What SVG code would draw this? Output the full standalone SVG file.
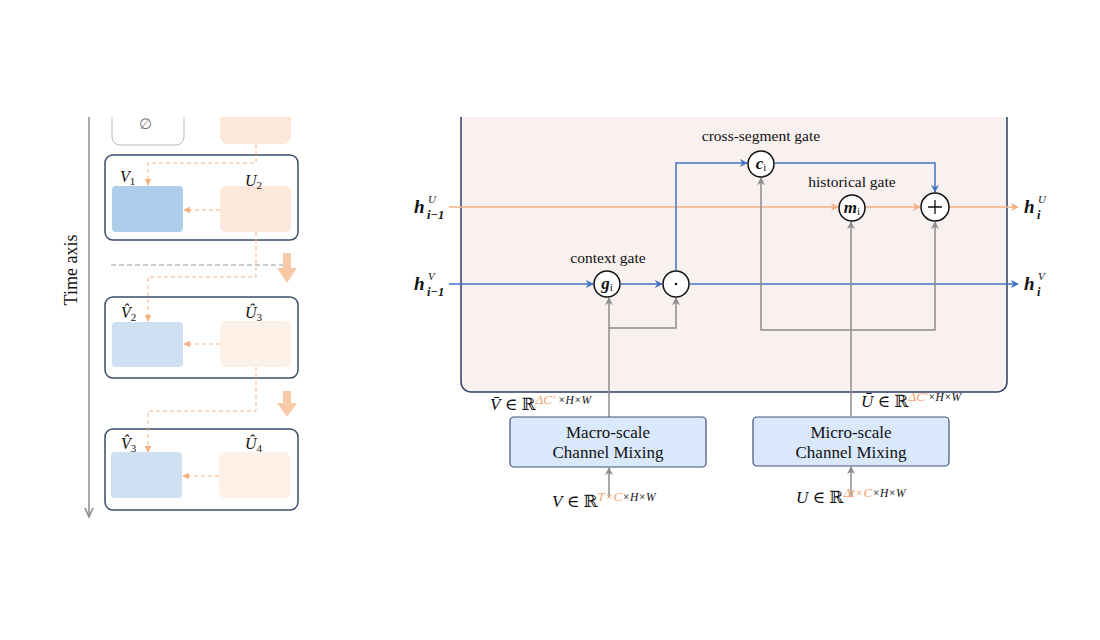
<svg xmlns="http://www.w3.org/2000/svg" width="1100" height="640" viewBox="0 0 1100 640">
<defs>
<style>
.serif{font-family:"Liberation Serif","DejaVu Serif",serif;fill:#111}
.it{font-style:italic}
.bi{font-style:italic;font-weight:bold}
.grp{fill:#fff;stroke:#3b4a6b;stroke-width:1.5}
.vbox{fill:#adcdea}
.vhat{fill:#cfe0f2}
.ubox{fill:#fbe8da}
.uhat{fill:#fdf0e6}
.dash{fill:none;stroke:#f4b183;stroke-width:1;stroke-dasharray:4 3}
.blue{fill:none;stroke:#4472c4;stroke-width:1.5}
.orange{fill:none;stroke:#f4b183;stroke-width:1.5}
.gray{fill:none;stroke:#8c8c8c;stroke-width:1.5}
.gate{fill:#fff;stroke:#111;stroke-width:1.5}
.mix{fill:#dae8fc;stroke:#3f5278;stroke-width:1.2}
.lbl{font-size:15.5px}
.hl{fill:#f4a26e}
</style>
<marker id="aBlue" viewBox="0 0 10 10" refX="9" refY="5" markerWidth="8" markerHeight="8" markerUnits="userSpaceOnUse" orient="auto"><path d="M0,0 L10,5 L0,10 L3,5 z" fill="#4472c4"/></marker>
<marker id="aOrange" viewBox="0 0 10 10" refX="9" refY="5" markerWidth="8" markerHeight="8" markerUnits="userSpaceOnUse" orient="auto"><path d="M0,0 L10,5 L0,10 L3,5 z" fill="#f4b183"/></marker>
<marker id="aGray" viewBox="0 0 10 10" refX="9" refY="5" markerWidth="8" markerHeight="8" markerUnits="userSpaceOnUse" orient="auto"><path d="M0,0 L10,5 L0,10 L3,5 z" fill="#8c8c8c"/></marker>
<marker id="aPeach" viewBox="0 0 10 10" refX="9" refY="5" markerWidth="7" markerHeight="7" markerUnits="userSpaceOnUse" orient="auto"><path d="M0,0 L10,5 L0,10 z" fill="#f4b183"/></marker>
<marker id="aAxis" viewBox="0 0 10 10" refX="9" refY="5" markerWidth="10" markerHeight="10" markerUnits="userSpaceOnUse" orient="auto"><path d="M0,1 L9,5 L0,9" fill="none" stroke="#8c8c8c" stroke-width="1.6"/></marker>
</defs>
<rect width="1100" height="640" fill="#fff"/>

<!-- LEFT PANEL -->
<g id="time-axis">
<line x1="89" y1="117" x2="89" y2="517" stroke="#8c8c8c" stroke-width="1.5" marker-end="url(#aAxis)"/>
<text class="serif" font-size="18" transform="translate(77,270) rotate(-90)" text-anchor="middle">Time axis</text>
</g>
<g id="top-row">
<path d="M112,117 V137 a8,8 0 0 0 8,8 H176 a8,8 0 0 0 8,-8 V117" fill="#fff" stroke="#bbb" stroke-width="1"/>
<text class="serif" x="145" y="129" font-size="15" text-anchor="middle" style="fill:#777">∅</text>
<path d="M220,117 V136 a8,8 0 0 0 8,8 H283 a8,8 0 0 0 8,-8 V117 z" class="ubox"/>
</g>
<g id="segment1">
<rect x="105" y="155" width="193" height="85" rx="8" class="grp"/>
<rect x="112" y="186" width="71" height="46" rx="4" class="vbox"/>
<rect x="220" y="186" width="71" height="46" rx="6" class="ubox"/>
<text class="serif it" x="120" y="182" font-size="16">V<tspan font-size="11" dy="3" font-style="normal">1</tspan></text>
<text class="serif it" x="245" y="186" font-size="16">U<tspan font-size="11" dy="3" font-style="normal">2</tspan></text>
</g>
<g id="segment2">
<rect x="105" y="297" width="193" height="81" rx="8" class="grp"/>
<rect x="112" y="322" width="71" height="45" rx="4" class="vhat"/>
<rect x="220" y="321" width="71" height="46" rx="6" class="uhat"/>
<text class="serif it" x="121" y="318" font-size="16">V̂<tspan font-size="11" dy="3" font-style="normal">2</tspan></text>
<text class="serif it" x="245" y="318" font-size="16">Û<tspan font-size="11" dy="3" font-style="normal">3</tspan></text>
</g>
<g id="segment3">
<rect x="105" y="429" width="193" height="81" rx="8" class="grp"/>
<rect x="111" y="452" width="71" height="46" rx="4" class="vhat"/>
<rect x="219" y="452" width="71" height="46" rx="6" class="uhat"/>
<text class="serif it" x="121" y="449" font-size="16">V̂<tspan font-size="11" dy="3" font-style="normal">3</tspan></text>
<text class="serif it" x="245" y="449" font-size="16">Û<tspan font-size="11" dy="3" font-style="normal">4</tspan></text>
</g>
<g id="left-connectors">
<path class="dash" d="M256,144 V163 H148 V185" marker-end="url(#aPeach)"/>
<path class="dash" d="M220,210 H184" marker-end="url(#aPeach)"/>
<line x1="111" y1="265" x2="285" y2="265" stroke="#9a9a9a" stroke-width="1" stroke-dasharray="5 3"/>
<path class="dash" d="M256,232 V277 H148 V321" marker-end="url(#aPeach)"/>
<path class="dash" d="M220,344 H184" marker-end="url(#aPeach)"/>
<path class="dash" d="M256,367 V411 H148 V452" marker-end="url(#aPeach)"/>
<path class="dash" d="M219,476 H183" marker-end="url(#aPeach)"/>
<path d="M283,253 H291 V268 H297 L287,283 L277,268 H283 z" fill="#f8c9a6"/>
<path d="M283,391 H291 V403 H297 L287,417 L277,403 H283 z" fill="#f8c9a6"/>
</g>

<!-- RIGHT PANEL -->
<g id="cell">
<path d="M461,117 V382 a10,10 0 0 0 10,10 H997 a10,10 0 0 0 10,-10 V117" fill="#f9f0f0" stroke="#2d3e66" stroke-width="1.5"/>
</g>

<g id="connectors">
<path class="orange" d="M449,207 H838" marker-end="url(#aOrange)"/>
<path class="orange" d="M865,207 H920" marker-end="url(#aOrange)"/>
<path class="orange" d="M949,207 H1018" marker-end="url(#aOrange)"/>
<path class="blue" d="M449,284 H593" marker-end="url(#aBlue)"/>
<path class="blue" d="M621,284 H662" marker-end="url(#aBlue)"/>
<path class="blue" d="M690,284 H1018" marker-end="url(#aBlue)"/>
<path class="blue" d="M676,270 V163 H747" marker-end="url(#aBlue)"/>
<path class="blue" d="M775,163 H935 V192" marker-end="url(#aBlue)"/>
<path class="gray" d="M609,418 V298" marker-end="url(#aGray)"/>
<path class="gray" d="M609,328 H676 V298" marker-end="url(#aGray)"/>
<path class="gray" d="M851,416 V222" marker-end="url(#aGray)"/>
<path class="gray" d="M851,330 H761 V178" marker-end="url(#aGray)"/>
<path class="gray" d="M851,330 H935 V222" marker-end="url(#aGray)"/>
<path class="gray" d="M609,497 V468" marker-end="url(#aGray)"/>
<path class="gray" d="M851,497 V467" marker-end="url(#aGray)"/>
</g>

<g id="gate-g">
<circle cx="607" cy="284" r="13" class="gate"/>
<text class="serif" x="607" y="289" font-size="17" text-anchor="middle"><tspan class="bi">g</tspan><tspan font-size="11" dy="2">i</tspan></text>
<text class="serif lbl" x="608" y="263" text-anchor="middle">context gate</text>
</g>
<g id="gate-dot">
<circle cx="676" cy="284" r="13" class="gate"/>
<circle cx="676" cy="284" r="1.3" fill="#111"/>
</g>
<g id="gate-c">
<circle cx="761" cy="164" r="13" class="gate"/>
<text class="serif" x="761" y="169" font-size="17" text-anchor="middle"><tspan class="bi">c</tspan><tspan font-size="11" dy="2">i</tspan></text>
<text class="serif lbl" x="761" y="141" text-anchor="middle">cross-segment gate</text>
</g>
<g id="gate-m">
<circle cx="852" cy="208" r="13" class="gate"/>
<text class="serif" x="852" y="213" font-size="17" text-anchor="middle"><tspan class="bi">m</tspan><tspan font-size="11" dy="2">i</tspan></text>
<text class="serif lbl" x="852" y="187" text-anchor="middle">historical gate</text>
</g>
<g id="gate-plus">
<circle cx="935" cy="207" r="14" class="gate"/>
<path d="M928,207 H942 M935,200 V214" stroke="#111" stroke-width="1.3"/>
</g>

<g id="h-labels">
<text class="serif bi" x="414" y="213" font-size="19">h</text>
<text class="serif it" x="428" y="203" font-size="11">U</text>
<text class="serif bi" x="427" y="219" font-size="12.5">i−1</text>
<text class="serif bi" x="414" y="290" font-size="19">h</text>
<text class="serif it" x="428" y="280" font-size="11">V</text>
<text class="serif bi" x="427" y="296" font-size="12.5">i−1</text>
<text class="serif bi" x="1024" y="213" font-size="19">h</text>
<text class="serif it" x="1038" y="203" font-size="11">U</text>
<text class="serif bi" x="1037" y="219" font-size="12.5">i</text>
<text class="serif bi" x="1024" y="290" font-size="19">h</text>
<text class="serif it" x="1038" y="280" font-size="11">V</text>
<text class="serif bi" x="1037" y="296" font-size="12.5">i</text>
</g>

<g id="macro-mixing">
<rect x="510" y="417" width="196" height="50" rx="4" class="mix"/>
<text class="serif" x="608" y="438" font-size="17" text-anchor="middle">Macro-scale</text>
<text class="serif" x="608" y="458" font-size="17" text-anchor="middle">Channel Mixing</text>
<text class="serif" x="490" y="410" font-size="17"><tspan class="it">V̄</tspan> ∈ ℝ<tspan font-size="13" dy="-6" class="hl it">ΔC′</tspan><tspan font-size="11.5" class="it"> ×H×W</tspan></text>
<text class="serif" x="552" y="507" font-size="17"><tspan class="it">V</tspan> ∈ ℝ<tspan font-size="13" dy="-6" class="hl it">T×C</tspan><tspan font-size="11.5" class="it">×H×W</tspan></text>
</g>
<g id="micro-mixing">
<rect x="753" y="417" width="196" height="49" rx="4" class="mix"/>
<text class="serif" x="851" y="438" font-size="17" text-anchor="middle">Micro-scale</text>
<text class="serif" x="851" y="458" font-size="17" text-anchor="middle">Channel Mixing</text>
<text class="serif" x="861" y="407" font-size="17"><tspan class="it">Ū</tspan> ∈ ℝ<tspan font-size="13" dy="-6" class="hl it">ΔC′</tspan><tspan font-size="11.5" class="it">×H×W</tspan></text>
<text class="serif" x="796" y="503" font-size="17"><tspan class="it">U</tspan> ∈ ℝ<tspan font-size="13" dy="-6" class="hl it">Δt×C</tspan><tspan font-size="11.5" class="it">×H×W</tspan></text>
</g>
</svg>
